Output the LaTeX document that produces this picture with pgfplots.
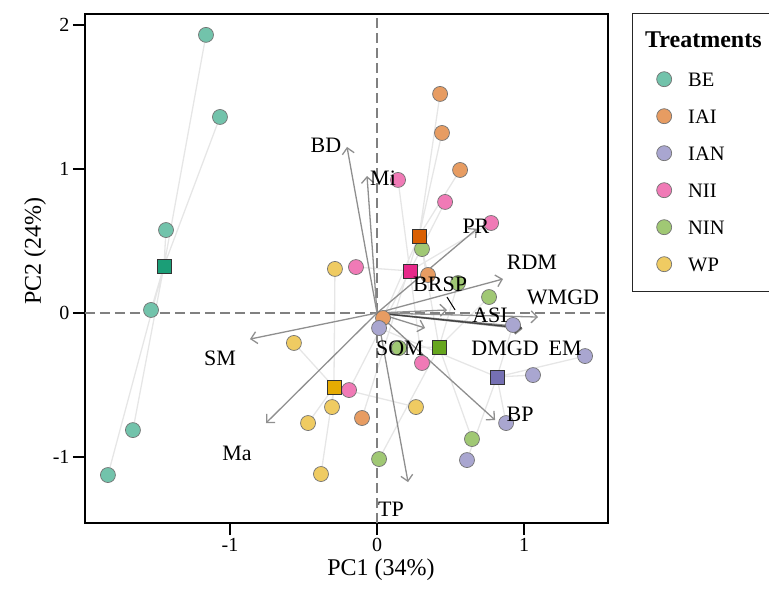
\documentclass[border=0pt]{standalone}
\usepackage{fontspec}
\setmainfont{Liberation Serif}
\usepackage{pgfplots}
\pgfplotsset{compat=1.18}
\usetikzlibrary{arrows.meta}
\definecolor{cBE}{HTML}{1B9E77}
\definecolor{cIAI}{HTML}{D95F02}
\definecolor{cIAN}{HTML}{7570B3}
\definecolor{cNII}{HTML}{E7298A}
\definecolor{cNIN}{HTML}{66A61E}
\definecolor{cWP}{HTML}{E6AB02}
\definecolor{spider}{HTML}{E6E6E6}
\definecolor{arrowgray}{HTML}{8F8F8F}
\pgfplotsset{
  pts/.style={only marks, mark=*, mark size=7.5pt, mark options={fill=#1!62!white, draw=black!55, line width=0.7pt}},
  cen/.style={only marks, mark=square*, mark size=7pt, mark options={fill=#1, draw=black!80, line width=0.8pt}, forget plot},
  spd/.style={spider, line width=1.3pt, forget plot},
  arr/.style={arrowgray, line width=1.3pt, -{Straight Barb[length=6pt,width=12pt,line width=1.3pt]}, forget plot},
}
\begin{document}
\begin{tikzpicture}[x=1pt,y=1pt]
\begin{axis}[name=ax, at={(0,0)}, anchor=south west, set layers,
  scale only axis, width=523pt, height=509pt,
  xmin=-1.986, xmax=1.571, ymin=-1.458, ymax=2.076,
  xtick={-1,0,1}, ytick={-1,0,1,2},
  xtick pos=bottom, ytick pos=left,
  tick align=outside, major tick length=12pt,
  every tick/.style={black, line width=2.8pt},
  axis line style={black, line width=1.3pt},
  /pgf/number format/assume math mode=true,
  tick label style={font=\fontsize{20}{24}\selectfont},
  xlabel={PC1 (34\%)}, ylabel={PC2 (24\%)},
  label style={font=\fontsize{24}{28}\selectfont},
  xlabel style={at={(ticklabel cs:0.566)}},
  ylabel style={at={(ticklabel cs:0.542)}, xshift=-4pt},
  legend cell align=left,
  legend style={at={(axis description cs:1.0927,0.890)}, anchor=north west, draw=none, fill=none,
    inner xsep=0pt, inner ysep=0pt, row sep=19pt, column sep=16.5pt,
    nodes={inner sep=0pt, text height=16pt, text depth=2pt},
    font=\fontsize{20.5}{24}\selectfont},
  clip=false,
]
% spider lines
\addplot[spd] coordinates {(-1.449,0.326) (-1.163,1.931) (-1.449,0.326) (-1.068,1.361) (-1.449,0.326) (-1.435,0.576) (-1.449,0.326) (-1.537,0.021) (-1.449,0.326) (-1.660,-0.813) (-1.449,0.326) (-1.830,-1.125)};
\addplot[spd] coordinates {(0.286,0.535) (0.429,1.521) (0.286,0.535) (0.442,1.250) (0.286,0.535) (0.565,0.993) (0.286,0.535) (0.347,0.264) (0.286,0.535) (-0.102,-0.729) (0.286,0.535) (0.041,-0.035)};
\addplot[spd] coordinates {(0.816,-0.444) (0.014,-0.104) (0.816,-0.444) (0.925,-0.083) (0.816,-0.444) (1.415,-0.299) (0.816,-0.444) (1.061,-0.431) (0.816,-0.444) (0.878,-0.764) (0.816,-0.444) (0.612,-1.021)};
\addplot[spd] coordinates {(0.224,0.292) (0.143,0.924) (0.224,0.292) (0.463,0.771) (0.224,0.292) (0.776,0.625) (0.224,0.292) (-0.143,0.319) (0.224,0.292) (0.306,-0.347) (0.224,0.292) (-0.190,-0.535)};
\addplot[spd] coordinates {(0.422,-0.236) (0.306,0.444) (0.422,-0.236) (0.762,0.111) (0.422,-0.236) (0.150,-0.243) (0.422,-0.236) (0.646,-0.875) (0.422,-0.236) (0.014,-1.014) (0.422,-0.236) (0.551,0.208)};
\addplot[spd] coordinates {(-0.293,-0.514) (-0.286,0.306) (-0.293,-0.514) (-0.565,-0.208) (-0.293,-0.514) (-0.306,-0.653) (-0.293,-0.514) (-0.469,-0.764) (-0.293,-0.514) (-0.381,-1.118) (-0.293,-0.514) (0.265,-0.653)};
% reference lines
\addplot[black!50, line width=1.4pt, dash pattern=on 10pt off 5pt, forget plot] coordinates {(-1.986,0) (1.571,0)};
\addplot[black!50, line width=1.4pt, dash pattern=on 10pt off 5pt, forget plot] coordinates {(0,-1.458) (0,2.076)};
% loadings arrows
\addplot[arr] coordinates {(0,0) (-0.204,1.153)};
\addplot[arr] coordinates {(0,0) (-0.068,0.951)};
\addplot[arr] coordinates {(0,0) (0.680,0.585)};
\addplot[arr] coordinates {(0,0) (0.857,0.236)};
\addplot[arr] coordinates {(0,0) (0.476,0.021)};
\addplot[arr] coordinates {(0,0) (1.095,-0.028)};
\addplot[arr] coordinates {(0,0) (0.980,-0.095)};
\addplot[arr] coordinates {(0,0) (0.990,-0.110)};
\addplot[arr, black!75] coordinates {(0,0) (0.986,-0.104)};
\addplot[arr] coordinates {(0,0) (0.327,-0.104)};
\addplot[arr] coordinates {(0,0) (-0.864,-0.181)};
\addplot[arr] coordinates {(0,0) (-0.755,-0.764)};
\addplot[arr] coordinates {(0,0) (0.211,-1.174)};
\addplot[arr] coordinates {(0,0) (0.803,-0.743)};
% sample points
\addplot[pts=cBE] coordinates {(-1.163,1.931) (-1.068,1.361) (-1.435,0.576) (-1.537,0.021) (-1.660,-0.813) (-1.830,-1.125)};
\addlegendentry{BE}
\addplot[pts=cIAI] coordinates {(0.429,1.521) (0.442,1.250) (0.565,0.993) (0.347,0.264) (-0.102,-0.729) (0.041,-0.035)};
\addlegendentry{IAI}
\addplot[pts=cIAN] coordinates {(0.014,-0.104) (0.925,-0.083) (1.415,-0.299) (1.061,-0.431) (0.878,-0.764) (0.612,-1.021)};
\addlegendentry{IAN}
\addplot[pts=cNII] coordinates {(0.143,0.924) (0.463,0.771) (0.776,0.625) (-0.143,0.319) (0.306,-0.347) (-0.190,-0.535)};
\addlegendentry{NII}
\addplot[pts=cNIN] coordinates {(0.306,0.444) (0.762,0.111) (0.150,-0.243) (0.646,-0.875) (0.014,-1.014) (0.551,0.208)};
\addlegendentry{NIN}
\addplot[pts=cWP] coordinates {(-0.286,0.306) (-0.565,-0.208) (-0.306,-0.653) (-0.469,-0.764) (-0.381,-1.118) (0.265,-0.653)};
\addlegendentry{WP}
% centroids
\addplot[cen=cBE] coordinates {(-1.449,0.326)};
\addplot[cen=cIAI] coordinates {(0.286,0.535)};
\addplot[cen=cIAN] coordinates {(0.816,-0.444)};
\addplot[cen=cNII] coordinates {(0.224,0.292)};
\addplot[cen=cNIN] coordinates {(0.422,-0.236)};
\addplot[cen=cWP] coordinates {(-0.293,-0.514)};
% variable labels on top
\begin{pgfonlayer}{axis foreground}
\draw[black, line width=1pt] (axis cs:0.476,0.111) -- (axis cs:0.531,0.021);
\begin{scope}[every node/.style={font=\fontsize{22}{26}\selectfont, inner sep=0pt}]
\node at (axis cs:-0.347,1.167) {BD};
\node at (axis cs:0.041,0.938) {Mi};
\node at (axis cs:0.673,0.604) {PR};
\node at (axis cs:1.054,0.354) {RDM};
\node at (axis cs:0.429,0.201) {BRSP};
\node at (axis cs:1.265,0.111) {WMGD};
\node at (axis cs:0.769,-0.014) {ASI};
\node at (axis cs:1.279,-0.243) {EM};
\node at (axis cs:0.871,-0.243) {DMGD};
\node at (axis cs:0.156,-0.243) {SOM};
\node at (axis cs:-1.068,-0.313) {SM};
\node at (axis cs:-0.952,-0.972) {Ma};
\node at (axis cs:0.095,-1.361) {TP};
\node at (axis cs:0.973,-0.701) {BP};
\end{scope}
\end{pgfonlayer}
\end{axis}
% legend frame and title
\draw[black!85, line width=1pt] (547,231) rectangle (700,509);
\node[anchor=base west, inner sep=0pt, font=\fontsize{24}{28}\selectfont\bfseries] at (560,475) {Treatments};
\pgfresetboundingbox
\path (-85,-72) rectangle (684,523);
\end{tikzpicture}
\end{document}
